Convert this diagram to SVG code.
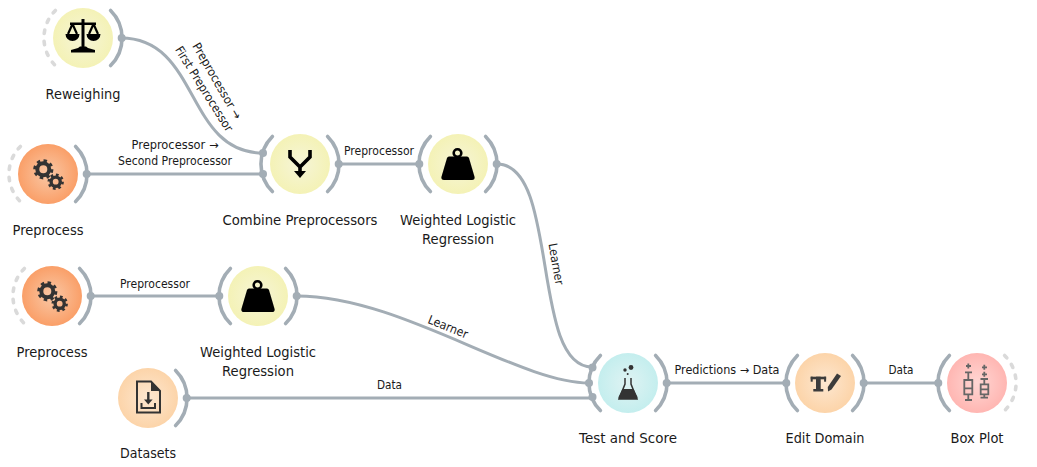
<svg xmlns="http://www.w3.org/2000/svg" width="1037" height="467" viewBox="0 0 1037 467">
<style>
text{font-family:"DejaVu Sans","Liberation Sans",sans-serif;fill:#1a1a1a;text-anchor:middle}
.n{font-size:14px}
.e{font-size:12px}
.c{fill:none;stroke:#a3adb5;stroke-width:3}
.arc{fill:none;stroke:#a3adb5;stroke-width:3.6;stroke-linecap:round}
.dash{fill:none;stroke:#dadada;stroke-width:3.6;stroke-linecap:round;stroke-dasharray:3.4 7.9}
.dot{fill:#a3adb5}
.ik{fill:#000}
.gear{fill:none;stroke:#333}
.bp{fill:none;stroke:#666;stroke-width:1.8}
.doc{fill:none;stroke:#333;stroke-width:2}
</style>
<defs>
<radialGradient id="gy"><stop offset="0" stop-color="#f6f5d8"/><stop offset="1" stop-color="#f4f2b6"/></radialGradient>
<radialGradient id="go"><stop offset="0" stop-color="#f9c8a6"/><stop offset="1" stop-color="#fa9f68"/></radialGradient>
<radialGradient id="gl"><stop offset="0" stop-color="#fde7d0"/><stop offset="1" stop-color="#fcd4a9"/></radialGradient>
<radialGradient id="gc"><stop offset="0" stop-color="#dff3f3"/><stop offset="1" stop-color="#c4eeee"/></radialGradient>
<radialGradient id="gr"><stop offset="0" stop-color="#ffd6d3"/><stop offset="1" stop-color="#ffb6b2"/></radialGradient>
<path id="aR" d="M27.6-27.6A39 39 0 0 1 27.6 27.6"/>
<path id="aL" d="M-27.6-27.6A39 39 0 0 0-27.6 27.6"/>
<g id="gears">
<circle class="gear" cx="-4.7" cy="-4.7" r="6" stroke-width="4"/>
<circle class="gear" cx="-4.7" cy="-4.7" r="8.6" stroke-width="3" stroke-dasharray="3.4 3.35"/>
<circle class="gear" cx="7.7" cy="7.7" r="4.6" stroke-width="3.4"/>
<circle class="gear" cx="7.7" cy="7.7" r="6.9" stroke-width="2.6" stroke-dasharray="2.7 2.72"/>
</g>
<g id="weight">
<circle cx="-0.5" cy="-11" r="3.8" fill="none" stroke="#000" stroke-width="2.6"/>
<path class="ik" d="M-9-7.500H9Q10.500-7.500 11-6L16.600 13Q17 16 14 16H-14Q-17 16-16.600 13L-11-6Q-10.500-7.500-9-7.500Z"/>
</g>
</defs>
<g id="connectors">
<path class="c" d="M121 38C200 38 185 153 263 153"/>
<path class="c" d="M87 174H263"/>
<path class="c" d="M339 164H419"/>
<path class="c" d="M497 164C560 164 530 367 592 367"/>
<path class="c" d="M91 296H219"/>
<path class="c" d="M297 296C400 296 518 383 589 383"/>
<path class="c" d="M187 398H592"/>
<path class="c" d="M667 383H787"/>
<path class="c" d="M864 383H939"/>
<text class="e" transform="translate(217 81) rotate(60)" y="4" textLength="86" lengthAdjust="spacingAndGlyphs">Preprocessor →</text>
<text class="e" transform="translate(204 89) rotate(58)" y="4" textLength="98" lengthAdjust="spacingAndGlyphs">First Preprocessor</text>
<text class="e" x="175" y="149" textLength="87" lengthAdjust="spacingAndGlyphs">Preprocessor →</text>
<text class="e" x="175" y="165" textLength="114" lengthAdjust="spacingAndGlyphs">Second Preprocessor</text>
<text class="e" x="379" y="155" textLength="70" lengthAdjust="spacingAndGlyphs">Preprocessor</text>
<text class="e" x="155" y="288" textLength="70" lengthAdjust="spacingAndGlyphs">Preprocessor</text>
<text class="e" transform="translate(556 264) rotate(80)" y="4" textLength="42" lengthAdjust="spacingAndGlyphs">Learner</text>
<text class="e" transform="translate(448 327) rotate(22)" y="4" textLength="42" lengthAdjust="spacingAndGlyphs">Learner</text>
<text class="e" x="389.500" y="389" textLength="25" lengthAdjust="spacingAndGlyphs">Data</text>
<text class="e" x="727" y="374" textLength="105" lengthAdjust="spacingAndGlyphs">Predictions → Data</text>
<text class="e" x="901" y="374" textLength="25" lengthAdjust="spacingAndGlyphs">Data</text>
</g>
<g id="node-reweighing">
<g transform="translate(83 38)">
<use href="#aL" class="dash"/><use href="#aR" class="arc"/><circle class="dot" cx="38.700" r="4"/>
<circle r="30" fill="url(#gy)"/>
<rect x="-1.500" y="-19" width="3" height="29" class="ik"/>
<path class="ik" d="M-13-15.500H13V-13H-13Z"/>
<path d="M-10.500-14L-15-4M-10.500-14L-6-4M10.500-14L15-4M10.500-14L6-4" stroke="#000" stroke-width="2.200" fill="none"/>
<path class="ik" d="M-17.500-4H-3.500A7 7 0 0 1-17.500-4ZM3.500-4H17.500A7 7 0 0 1 3.500-4Z"/>
<path class="ik" d="M-3 8.500H3L5 10 12 12V14.500H-12V12L-5 10Z"/>
</g>
<text class="n" x="83" y="99" textLength="75" lengthAdjust="spacingAndGlyphs">Reweighing</text>
</g>
<g id="node-preprocess-1">
<g transform="translate(48 174)">
<use href="#aL" class="dash"/><use href="#aR" class="arc"/><circle class="dot" cx="38.700" r="4"/>
<circle r="30" fill="url(#go)"/>
<use href="#gears"/>
</g>
<text class="n" x="48" y="235" textLength="71" lengthAdjust="spacingAndGlyphs">Preprocess</text>
</g>
<g id="node-combine">
<g transform="translate(300 164)">
<use href="#aL" class="arc"/><use href="#aR" class="arc"/>
<circle class="dot" cx="-37" cy="-11" r="4"/><circle class="dot" cx="-37" cy="10" r="4"/><circle class="dot" cx="38.700" r="4"/>
<circle r="30" fill="url(#gy)"/>
<path d="M-10-14V-7L0 3 10-7V-14M0 3V8" fill="none" stroke="#000" stroke-width="3.600"/>
<path class="ik" d="M-6 7H6L0 14Z"/>
</g>
<text class="n" x="300" y="225" textLength="155" lengthAdjust="spacingAndGlyphs">Combine Preprocessors</text>
</g>
<g id="node-wlr-1">
<g transform="translate(458 164)">
<use href="#aL" class="arc"/><use href="#aR" class="arc"/>
<circle class="dot" cx="-38.700" r="4"/><circle class="dot" cx="38.700" r="4"/>
<circle r="30" fill="url(#gy)"/>
<use href="#weight"/>
</g>
<text class="n" x="458" y="225" textLength="116" lengthAdjust="spacingAndGlyphs">Weighted Logistic</text>
<text class="n" x="458" y="244" textLength="72" lengthAdjust="spacingAndGlyphs">Regression</text>
</g>
<g id="node-preprocess-2">
<g transform="translate(52 296)">
<use href="#aL" class="dash"/><use href="#aR" class="arc"/><circle class="dot" cx="38.700" r="4"/>
<circle r="30" fill="url(#go)"/>
<use href="#gears"/>
</g>
<text class="n" x="52" y="357" textLength="71" lengthAdjust="spacingAndGlyphs">Preprocess</text>
</g>
<g id="node-wlr-2">
<g transform="translate(258 296)">
<use href="#aL" class="arc"/><use href="#aR" class="arc"/>
<circle class="dot" cx="-38.700" r="4"/><circle class="dot" cx="38.700" r="4"/>
<circle r="30" fill="url(#gy)"/>
<use href="#weight"/>
</g>
<text class="n" x="258" y="357" textLength="116" lengthAdjust="spacingAndGlyphs">Weighted Logistic</text>
<text class="n" x="258" y="376" textLength="72" lengthAdjust="spacingAndGlyphs">Regression</text>
</g>
<g id="node-datasets">
<g transform="translate(148 398)">
<use href="#aR" class="arc"/><circle class="dot" cx="38.700" r="4"/>
<circle r="30" fill="url(#gl)"/>
<path class="doc" d="M-11-16.500H3L12-7V14.500H-11Z"/>
<path d="M3-16.500L12-7H3Z" fill="#333"/>
<path d="M0.300-6V3" stroke="#333" stroke-width="2.400"/>
<path d="M-4 1.500H4.600L0.300 6.500Z" fill="#333"/>
<path class="doc" d="M-6.500 5V10H7V5"/>
</g>
<text class="n" x="148" y="458" textLength="56" lengthAdjust="spacingAndGlyphs">Datasets</text>
</g>
<g id="node-test-score">
<g transform="translate(628 383)">
<use href="#aL" class="arc"/><use href="#aR" class="arc"/>
<circle class="dot" cx="-35.500" cy="-15.500" r="4"/><circle class="dot" cx="-39" r="4"/><circle class="dot" cx="-35.500" cy="14" r="4"/><circle class="dot" cx="38.700" r="4"/>
<circle r="30" fill="url(#gc)"/>
<circle cx="3" cy="-15.500" r="2.400" fill="#333"/><circle cx="-3" cy="-13" r="1.700" fill="#333"/><circle cx="-0.300" cy="-9" r="1" fill="#333"/>
<path d="M-3-5V1L-9 16H9L3 1V-5" fill="none" stroke="#333" stroke-width="1.500"/>
<path d="M-5.500 6H5.500L9.500 14Q10 16 8 16H-8Q-10 16-9.500 14Z" fill="#333"/>
</g>
<text class="n" x="628" y="443" textLength="98" lengthAdjust="spacingAndGlyphs">Test and Score</text>
</g>
<g id="node-edit-domain">
<g transform="translate(825 383)">
<use href="#aL" class="arc"/><use href="#aR" class="arc"/>
<circle class="dot" cx="-38.700" r="4"/><circle class="dot" cx="38.700" r="4"/>
<circle r="30" fill="url(#gl)"/>
<g fill="#3c3c3c">
<rect x="-14.300" y="-6.300" width="15.400" height="2.600"/>
<rect x="-14.300" y="-6.300" width="2" height="5"/><rect x="-0.900" y="-6.300" width="2" height="5"/>
<rect x="-9" y="-6.300" width="4.700" height="14"/>
<rect x="-11.700" y="6" width="10" height="2.500"/>
<path d="M12-9.500L16-7 6.500 6.500 3 8.500 2.800 4Z"/>
</g>
</g>
<text class="n" x="825" y="443" textLength="79" lengthAdjust="spacingAndGlyphs">Edit Domain</text>
</g>
<g id="node-box-plot">
<g transform="translate(977 383)">
<use href="#aR" class="dash"/><use href="#aL" class="arc"/><circle class="dot" cx="-38.700" r="4"/>
<circle r="30" fill="url(#gr)"/>
<path class="bp" d="M-11-17H-6M-8.700-19.500V-14.500M-12-10.700H-5M-8.700-10.700V-3M-8.700 11.300V17M-12 17H-5M-12.700-3H-4.700V11.300H-12.700ZM-12.700 5.300H-4.700"/>
<path class="bp" d="M5-15.700H10M7.300-18.200V-13.200M5-8.700H10M7.300-11.200V-6.200M3.500-4H11M7.300-4V1.300M7.300 11.300V14.700M3.500 14.700H11M3.700 1.300H11.300V11.300H3.700ZM3.700 6.300H11.300"/>
</g>
<text class="n" x="977" y="443" textLength="53" lengthAdjust="spacingAndGlyphs">Box Plot</text>
</g>
</svg>
